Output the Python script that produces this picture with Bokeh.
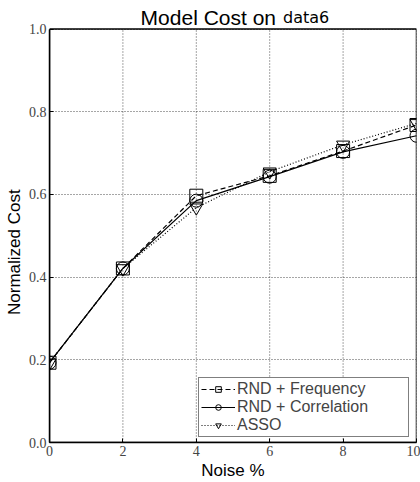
from bokeh.plotting import figure
from bokeh.models import Legend, LegendItem, Label, PrintfTickFormatter, FixedTicker, Range1d
from bokeh.embed import file_html
from bokeh.resources import INLINE

# Noise levels (%) and normalized model cost for each method
noise = [0, 2, 4, 6, 8, 10]
rnd_frequency = [0.193, 0.421, 0.597, 0.645, 0.705, 0.768]
rnd_correlation = [0.193, 0.421, 0.585, 0.643, 0.703, 0.742]
asso = [0.193, 0.421, 0.568, 0.655, 0.720, 0.772]

x_ticks = [0, 2, 4, 6, 8, 10]
y_ticks = [0.0, 0.2, 0.4, 0.6, 0.8, 1.0]

# headroom above 1.0 inside the canvas frame, used for the two-font title
y_top = 1.0692

p = figure(width=420, height=482, output_backend="svg", toolbar_location=None,
           title=None, x_range=Range1d(0, 10), y_range=Range1d(0, y_top),
           min_border_left=49, min_border_right=4, min_border_top=0, min_border_bottom=34)

p.background_fill_color = "white"
p.border_fill_color = "white"
p.outline_line_color = None

serif = "Liberation Serif"
for ax in (p.xaxis[0], p.yaxis[0]):
    ax.axis_line_color = "black"
    ax.axis_line_width = 1.5
    ax.major_tick_in = 4
    ax.major_tick_out = 0
    ax.minor_tick_line_color = None
    ax.major_label_text_font = serif
    ax.major_label_text_font_size = "14px"
    ax.major_label_text_color = "#444444"
    ax.major_label_standoff = 3
    ax.axis_label_text_font = "Liberation Sans"
    ax.axis_label_text_font_size = "17px"
    ax.axis_label_text_font_style = "normal"
    ax.axis_label_text_color = "black"
    ax.axis_label_standoff = 2

p.xaxis[0].ticker = FixedTicker(ticks=x_ticks)
p.yaxis[0].ticker = FixedTicker(ticks=y_ticks)
p.yaxis[0].bounds = (y_ticks[0], y_ticks[-1])
p.yaxis[0].formatter = PrintfTickFormatter(format="%.1f")
p.xaxis[0].axis_label = "Noise %"
# trailing no-break spaces keep the label centred on the 0..1 span
p.yaxis[0].axis_label = "Normalized Cost" + "\u00a0" * 13

# horizontal grid from the axis; vertical grid drawn only up to 1.0
p.xgrid[0].grid_line_color = None
g = p.ygrid[0]
g.grid_line_color = "black"
g.grid_line_dash = "1 2"
g.grid_line_alpha = 0.7
g.grid_line_width = 1
p.segment(x0=x_ticks, y0=[y_ticks[0]] * len(x_ticks), x1=x_ticks, y1=[y_ticks[-1]] * len(x_ticks),
          line_color="black", line_dash="1 2", line_alpha=0.7, line_width=1, level="underlay")

# box around the plotting area
p.quad(left=[x_ticks[0]], right=[x_ticks[-1]], bottom=[y_ticks[0]], top=[y_ticks[-1]],
       fill_color=None, line_color="black", line_width=1.5, level="underlay")

msize = 13
l1 = p.line(noise, rnd_frequency, line_color="black", line_width=1.2, line_dash="5 3")
s1 = p.scatter(noise, rnd_frequency, marker="square", size=msize, fill_color=None,
               line_color="black", line_width=1)
l2 = p.line(noise, rnd_correlation, line_color="black", line_width=1.2)
s2 = p.scatter(noise, rnd_correlation, marker="circle", size=msize, fill_color=None,
               line_color="black", line_width=1)
l3 = p.line(noise, asso, line_color="black", line_width=1.2, line_dash="1 2")
s3 = p.scatter(noise, asso, marker="inverted_triangle", size=msize, fill_color=None,
               line_color="black", line_width=1)

legend = Legend(items=[
    LegendItem(label="RND + Frequency", renderers=[l1, s1]),
    LegendItem(label="RND + Correlation", renderers=[l2, s2]),
    LegendItem(label="ASSO", renderers=[l3, s3]),
], location=(149, 5))
legend.border_line_color = "black"
legend.border_line_width = 1.2
legend.background_fill_color = "white"
legend.background_fill_alpha = 1.0
legend.label_text_font = "Liberation Sans"
legend.label_text_font_size = "16px"
legend.glyph_width = 34
legend.glyph_height = 14
legend.label_standoff = 2
legend.label_width = 169
legend.spacing = 0
legend.padding = 2
legend.margin = 0
p.add_layout(legend, "center")

# Title in two fonts: sans text plus the dataset name
t1 = Label(x=5, y=1.0, x_offset=43, y_offset=12, text="Model Cost on",
           text_align="right", text_baseline="alphabetic",
           text_font="Liberation Sans", text_font_size="21px", text_color="black")
t2 = Label(x=5, y=1.0, x_offset=50, y_offset=12, text="data6",
           text_align="left", text_baseline="alphabetic",
           text_font="DejaVu Sans", text_font_size="16px", text_color="black")
p.add_layout(t1)
p.add_layout(t2)

open("out.html", "w").write(file_html(p, INLINE))
